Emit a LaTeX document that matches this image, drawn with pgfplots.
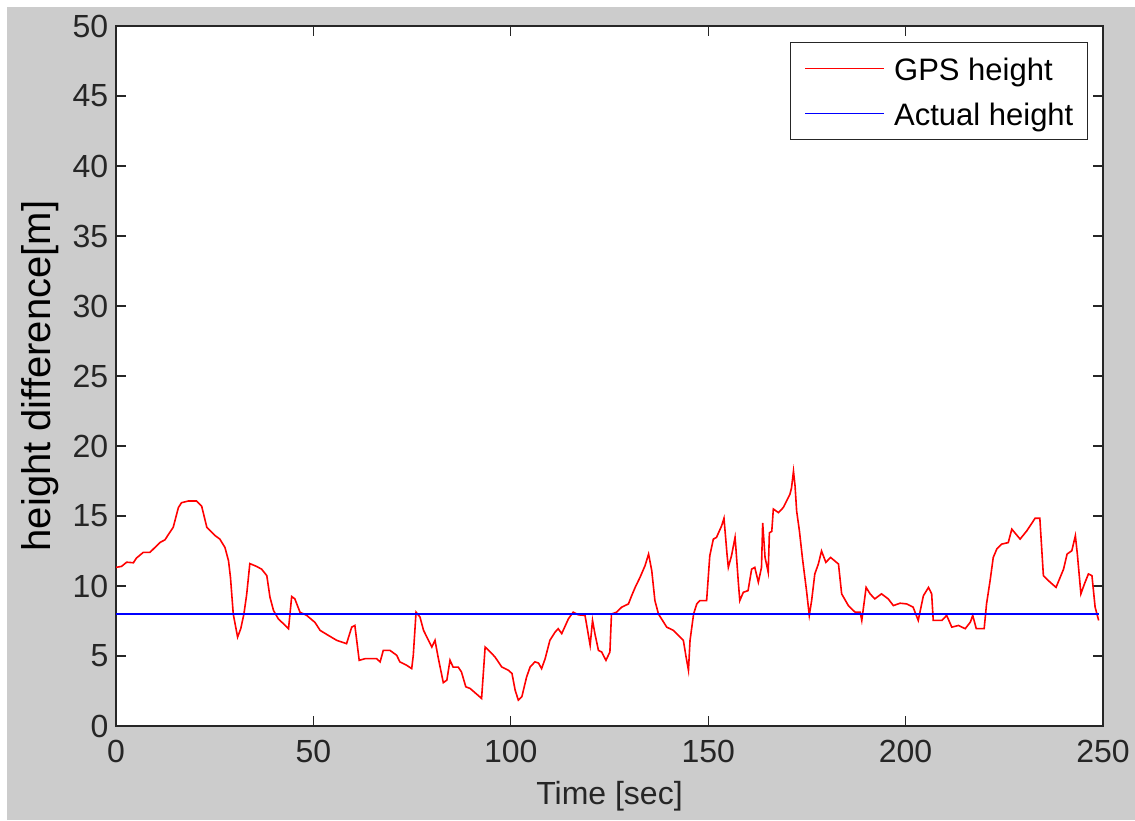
\documentclass[border=0pt]{standalone}
\usepackage{pgfplots}
\pgfplotsset{compat=1.18}
\usepackage{fontspec}
\setmainfont{Liberation Sans}
\definecolor{figgray}{RGB}{204,204,204}
\definecolor{axcol}{RGB}{38,38,38}
\begin{document}
\begin{tikzpicture}
\fill[white] (0,0) rectangle (1135bp,821bp);
\fill[figgray] (7bp,1bp) rectangle (1135bp,814bp);
\begin{axis}[
  at={(116bp,95bp)}, anchor=south west,
  scale only axis, width=987bp, height=700bp,
  xmin=0, xmax=250, ymin=0, ymax=50,
  xtick={0,50,...,250}, ytick={0,5,...,50},
  tick align=inside, tick pos=both,
  major tick length=10bp,
  every tick/.style={axcol, line width=1.3bp},
  axis line style={axcol, line width=1.5bp},
  axis background/.style={fill=white},
  /pgf/number format/assume math mode=true,
  ticklabel style={font=\fontsize{32bp}{38bp}\selectfont, text=axcol},
  xticklabel style={anchor=base, inner sep=0pt, yshift=-37bp},
  yticklabel style={anchor=east, inner sep=0pt, xshift=-7.5bp},
  xlabel={Time [sec]},
  xlabel style={at={(axis description cs:0.5,-0.11286)}, anchor=base, font=\fontsize{32bp}{38bp}\selectfont, text=axcol, inner sep=0pt},
  ylabel={height difference[m]},
  ylabel style={at={(axis description cs:-0.06687,0.5)}, anchor=base, rotate=0, font=\fontsize{40bp}{48bp}\selectfont, text=black, inner sep=0pt},
  legend image code/.code={\draw[#1, line width=1.6bp] (0bp,0bp) -- (79bp,0bp);},
  legend cell align=left,
  legend style={at={(0.98480,0.97714)}, anchor=north east,
    draw=axcol, line width=1.2bp, fill=white,
    font=\fontsize{31bp}{37bp}\selectfont,
    inner xsep=14bp, inner ysep=14.5bp, row sep=22bp,
    cells={anchor=west},
    nodes={inner sep=0pt, text height=23bp, text depth=0bp},
    /tikz/every odd column/.append style={column sep=9bp}},
]
\addplot[red, line width=1.6bp] coordinates {
(0,11.33) (1.4,11.4) (2.7,11.7) (4.4,11.66) (5.2,12.0) (6.9,12.4) (8.6,12.4)
(11.1,13.1) (12.4,13.3) (14.5,14.2) (15.8,15.6) (16.6,15.95) (18.3,16.07)
(20.4,16.07) (21.7,15.7) (23.0,14.2) (25.1,13.6) (26.3,13.35) (27.6,12.75)
(28.5,11.8) (29.0,10.6) (29.7,8.0) (30.8,6.35) (31.6,6.95) (32.4,8.0)
(33.1,9.4) (33.9,11.6) (35.6,11.4) (36.9,11.2) (38.2,10.74) (39.0,9.2)
(39.9,8.25) (41.1,7.66) (43.7,6.95) (44.5,9.25) (45.3,9.08) (46.6,8.13)
(48.3,7.9) (50.4,7.4) (51.7,6.83) (53.8,6.47) (55.9,6.12) (58.4,5.88)
(59.7,7.06) (60.5,7.18) (61.6,4.69) (63.1,4.81) (66.0,4.81) (66.9,4.58)
(67.7,5.4) (69.4,5.4) (71.1,5.05) (71.9,4.58) (73.6,4.34) (74.9,4.1)
(75.3,5.05) (76.0,8.13) (77.0,7.78) (77.9,6.83) (80.0,5.64) (80.8,6.12)
(81.6,4.9) (82.9,3.1) (83.8,3.27) (84.6,4.7) (85.4,4.2) (86.7,4.2)
(87.5,3.86) (88.6,2.8) (89.7,2.68) (92.6,1.97) (93.5,5.64) (94.8,5.29)
(96.0,4.93) (97.7,4.22) (99.4,3.98) (100.3,3.75) (101.1,2.56) (101.9,1.85)
(102.8,2.09) (104.0,3.5) (104.9,4.22) (106.1,4.58) (107.0,4.5) (107.8,4.1)
(108.7,4.81) (109.9,6.12) (111.2,6.7) (112.0,6.95) (112.9,6.6) (114.6,7.66)
(115.8,8.13) (117.1,7.94) (118.8,7.9) (120.1,5.76) (120.7,7.54) (121.3,6.6)
(122.2,5.4) (123.0,5.29) (124.1,4.69) (125.1,5.29) (125.5,8.0) (126.8,8.13)
(128.1,8.49) (129.8,8.72) (130.6,9.3) (131.5,9.9) (132.7,10.6) (134.0,11.45)
(134.9,12.28) (135.7,11.1) (136.5,8.96) (137.4,8.0) (139.5,7.06) (141.2,6.83)
(143.7,6.12) (144.4,4.93) (145.0,3.98) (145.4,6.12) (146.3,8.0) (147.1,8.72)
(147.9,8.96) (149.6,8.96) (150.4,12.16) (151.3,13.35) (152.1,13.47)
(153.4,14.3) (154.0,14.84) (154.8,12.16) (155.1,11.33) (155.9,12.16)
(156.8,13.47) (157.0,12.75) (157.6,10.38) (158.0,8.96) (158.9,9.55)
(160.1,9.67) (161.0,11.2) (161.8,11.33) (162.7,10.27) (163.5,11.33)
(163.8,14.5) (164.4,12.04) (165.2,10.98) (165.5,13.8) (166.1,13.9)
(166.5,15.5) (167.8,15.24) (169.0,15.6) (170.7,16.55) (171.1,17.0)
(171.6,18.2) (172.0,17.14) (172.4,15.36) (173.1,13.94) (173.9,11.92)
(174.9,9.67) (175.6,7.9) (176.2,8.96) (177.0,10.86) (177.9,11.57)
(178.7,12.5) (179.8,11.69) (181.0,12.04) (183.0,11.57) (183.8,9.44)
(185.5,8.6) (187.2,8.13) (188.5,8.13) (188.9,7.54) (190.0,9.9) (191.0,9.44)
(192.2,9.08) (193.9,9.44) (195.6,9.08) (196.9,8.6) (198.6,8.77) (200.3,8.72)
(201.9,8.49) (203.2,7.54) (204.5,9.3) (205.8,9.9) (206.6,9.44) (207.0,7.54)
(209.2,7.54) (210.4,7.9) (211.7,7.06) (213.4,7.18) (215.1,6.95) (216.4,7.42)
(217.0,7.9) (217.9,6.95) (219.9,6.95) (220.5,8.72) (221.4,10.38)
(222.2,12.04) (223.1,12.64) (224.3,12.99) (226.0,13.1) (226.9,14.06)
(229.0,13.35) (230.7,13.94) (232.8,14.84) (234.0,14.84) (234.9,10.74)
(236.6,10.27) (238.1,9.9) (240.0,11.2) (240.9,12.28) (242.1,12.52)
(243.0,13.59) (243.5,12.28) (244.4,9.44) (245.3,10.15) (246.3,10.86)
(247.2,10.74) (248.0,8.49) (248.9,7.54)
};
\addlegendentry{GPS height}
\addplot[blue, line width=1.6bp] coordinates {(0,8) (249,8)};
\addlegendentry{Actual height}
\end{axis}
\pgfresetboundingbox
\useasboundingbox (0,0) rectangle (1135bp,821bp);
\end{tikzpicture}
\end{document}
